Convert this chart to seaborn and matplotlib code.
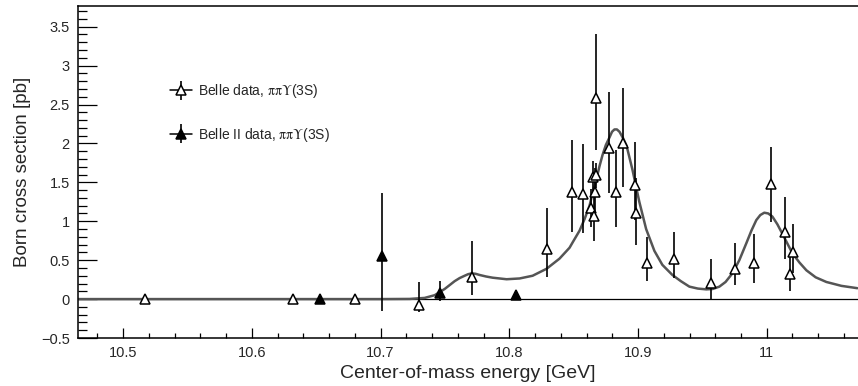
import numpy as np
import pandas as pd
import seaborn as sns
import matplotlib
matplotlib.use("Agg")
from matplotlib import pyplot as plt
from matplotlib import ticker
from matplotlib.lines import Line2D
from matplotlib.container import ErrorbarContainer
from matplotlib.legend_handler import HandlerErrorbar, HandlerTuple

# Belle data, pi pi Y(3S)
belle_E = [10.517, 10.632, 10.680, 10.730, 10.771, 10.829, 10.849, 10.857,
           10.8635, 10.865, 10.8655, 10.8668, 10.867, 10.8675, 10.8777, 10.8825,
           10.8885, 10.898, 10.8985, 10.907, 10.928, 10.957, 10.975, 10.990,
           11.0035, 11.0145, 11.018, 11.0205]
belle_xs = [0.0, 0.0, 0.0, -0.08, 0.28, 0.65, 1.38, 1.35,
            1.17, 1.57, 1.07, 1.38, 1.59, 2.59, 1.94, 1.37,
            2.01, 1.47, 1.11, 0.47, 0.51, 0.21, 0.39, 0.47,
            1.48, 0.86, 0.32, 0.60]
belle_up = [0.02, 0.02, 0.02, 0.30, 0.47, 0.52, 0.66, 0.64,
            0.25, 0.20, 0.30, 0.30, 0.16, 0.82, 0.72, 0.55,
            0.70, 0.55, 0.45, 0.33, 0.35, 0.30, 0.33, 0.37,
            0.47, 0.45, 0.25, 0.37]
belle_lo = [0.02, 0.02, 0.02, 0.09, 0.23, 0.37, 0.515, 0.50,
            0.25, 0.20, 0.33, 0.30, 0.16, 0.67, 0.58, 0.44,
            0.57, 0.45, 0.42, 0.235, 0.24, 0.22, 0.21, 0.26,
            0.49, 0.35, 0.22, 0.26]

# Belle II data, pi pi Y(3S)
belle2_E = [10.653, 10.701, 10.746, 10.805]
belle2_xs = [0.0, 0.55, 0.08, 0.05]
belle2_up = [0.01, 0.81, 0.155, 0.01]
belle2_lo = [0.01, 0.70, 0.10, 0.01]

# fit curve
fit_E = [10.4649, 10.5984, 10.6993, 10.7226, 10.7342, 10.742, 10.7498, 10.7575,
         10.7614, 10.7653, 10.768, 10.7707, 10.7738, 10.7769, 10.782, 10.787,
         10.7979, 10.808, 10.8181, 10.829, 10.839, 10.8468, 10.8496, 10.8546,
         10.8585, 10.8623, 10.865, 10.8678, 10.8701, 10.8724, 10.875, 10.8779,
         10.8798, 10.8817, 10.8836, 10.8856, 10.8883, 10.8911, 10.8957, 10.901,
         10.9063, 10.9127, 10.9189, 10.9267, 10.9333, 10.9399, 10.9465, 10.9531,
         10.958, 10.9632, 10.968, 10.9733, 10.9787, 10.9842, 10.9881, 10.9919,
         10.995, 10.9981, 11.0012, 11.0044, 11.0083, 11.0121, 11.0199, 11.0254,
         11.0308, 11.038, 11.0463, 11.058, 11.0704]
fit_xs = [0.0, 0.0, 0.0, 0.002, 0.015, 0.05, 0.13, 0.23,
          0.27, 0.30, 0.32, 0.33, 0.325, 0.31, 0.29, 0.275,
          0.255, 0.265, 0.30, 0.39, 0.52, 0.66, 0.74, 0.88,
          1.03, 1.20, 1.38, 1.55, 1.71, 1.85, 1.98, 2.08,
          2.15, 2.18, 2.18, 2.15, 2.07, 1.97, 1.66, 1.25,
          0.90, 0.62, 0.44, 0.31, 0.23, 0.16, 0.135, 0.125,
          0.13, 0.16, 0.22, 0.33, 0.50, 0.72, 0.88, 1.015,
          1.08, 1.11, 1.10, 1.06, 0.96, 0.84, 0.59, 0.47,
          0.37, 0.28, 0.22, 0.17, 0.14]

sns.set_theme(style="ticks")
plt.rcParams["font.family"] = ["Liberation Sans", "DejaVu Sans"]
plt.rcParams["mathtext.fontset"] = "stix"

fig = plt.figure(figsize=(8.58, 3.86), dpi=100)
ax = fig.add_axes([78 / 858, 1 - 338 / 386, 1 - 78 / 858, 332 / 386])

ax.axhline(0, color="black", lw=0.9, zorder=1)

fit = pd.DataFrame({"E": fit_E, "xs": fit_xs})
sns.lineplot(data=fit, x="E", y="xs", ax=ax, color="#555555", lw=1.8,
             sort=False, zorder=2)

eb1 = ax.errorbar(belle_E, belle_xs, yerr=[belle_lo, belle_up], fmt="^",
                  ms=6.5, mfc="white", mec="black", mew=1.1, ecolor="black",
                  elinewidth=1.2, capsize=0, zorder=4)
eb2 = ax.errorbar(belle2_E, belle2_xs, yerr=[belle2_lo, belle2_up], fmt="^",
                  ms=6.5, mfc="black", mec="black", mew=1.1, ecolor="black",
                  elinewidth=1.2, capsize=0, zorder=4)

ax.set_xlim(10.4649, 11.0709)
ax.set_ylim(-0.5, 3.766)

fmt = ticker.FuncFormatter(lambda v, p: f"{v:g}".replace("-", "\u2212"))
ax.xaxis.set_major_locator(ticker.MultipleLocator(0.1))
ax.xaxis.set_minor_locator(ticker.MultipleLocator(0.02))
ax.yaxis.set_major_locator(ticker.MultipleLocator(0.5))
ax.yaxis.set_minor_locator(ticker.MultipleLocator(0.1))
ax.xaxis.set_major_formatter(fmt)
ax.yaxis.set_major_formatter(fmt)
ax.tick_params(axis="x", which="major", direction="in", length=7, width=0.9,
               labelsize=10.5, pad=6, color="black")
ax.tick_params(axis="x", which="minor", direction="in", length=3.6, width=0.9,
               color="black")
ax.tick_params(axis="y", which="major", direction="in", length=13.5, width=0.9,
               labelsize=10.5, pad=6, color="black")
ax.tick_params(axis="y", which="minor", direction="in", length=6.7, width=0.9,
               color="black")

for side in ["left", "bottom", "top"]:
    ax.spines[side].set_linewidth(1.1)
    ax.spines[side].set_color("black")
ax.spines["right"].set_visible(False)

ax.set_xlabel("Center-of-mass energy [GeV]", fontsize=14, labelpad=3)
ax.set_ylabel("Born cross section [pb]", fontsize=13.5, labelpad=7)

hline = Line2D([], [], color="black", lw=1.1)
leg = ax.legend([(hline, eb1), (hline, eb2)],
                [r"Belle data, $\mathrm{\pi\pi\Upsilon}$(3S)",
                 r"Belle II data, $\mathrm{\pi\pi\Upsilon}$(3S)"],
                handler_map={ErrorbarContainer: HandlerErrorbar(xerr_size=0.68),
                             tuple: HandlerTuple(ndivide=1)},
                loc="upper left", bbox_to_anchor=(170 / 858, 1 - 82 / 386),
                bbox_transform=fig.transFigure, frameon=False, fontsize=10,
                handlelength=1.58, handletextpad=0.45, labelspacing=1.85,
                borderpad=0, borderaxespad=0)

fig.savefig("out.png", dpi=100)
